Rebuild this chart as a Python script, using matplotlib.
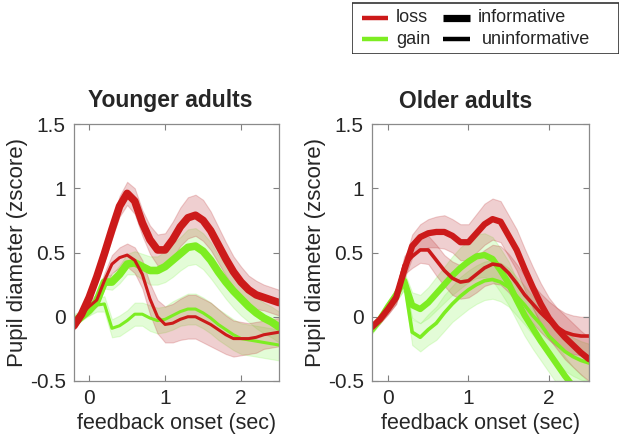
import numpy as np
import matplotlib
matplotlib.use("Agg")
import matplotlib.pyplot as plt
from matplotlib.lines import Line2D
from matplotlib.patches import Rectangle

plt.rcParams['font.family'] = ['Liberation Sans', 'DejaVu Sans']

# ---------------- data ----------------
t = [-0.2, -0.1, 0.0, 0.1, 0.2, 0.3, 0.4, 0.5, 0.6, 0.7, 0.8, 0.9, 1.0, 1.1,
     1.2, 1.3, 1.4, 1.5, 1.6, 1.7, 1.8, 1.9, 2.0, 2.1, 2.2, 2.3, 2.4, 2.5]

# Younger adults
young_loss_inf = [-0.07, 0.02, 0.15, 0.31, 0.49, 0.68, 0.86, 0.96, 0.90, 0.73, 0.60, 0.52, 0.52, 0.60,
                  0.70, 0.77, 0.79, 0.75, 0.67, 0.56, 0.45, 0.35, 0.27, 0.21, 0.17, 0.15, 0.13, 0.11]
young_loss_inf_ci = [0.03, 0.03, 0.04, 0.05, 0.06, 0.07, 0.08, 0.09, 0.10, 0.10, 0.11, 0.12, 0.13, 0.14,
                     0.15, 0.16, 0.16, 0.16, 0.15, 0.14, 0.13, 0.12, 0.12, 0.11, 0.11, 0.10, 0.10, 0.10]
young_gain_inf = [-0.05, 0.00, 0.05, 0.12, 0.27, 0.27, 0.33, 0.41, 0.42, 0.39, 0.36, 0.36, 0.39, 0.44,
                  0.49, 0.54, 0.55, 0.51, 0.44, 0.35, 0.27, 0.20, 0.14, 0.08, 0.03, -0.01, -0.04, -0.08]
young_gain_inf_ci = [0.03, 0.03, 0.04, 0.04, 0.05, 0.06, 0.07, 0.08, 0.09, 0.10, 0.11, 0.11, 0.12, 0.13,
                     0.13, 0.14, 0.14, 0.14, 0.14, 0.13, 0.13, 0.13, 0.13, 0.12, 0.12, 0.12, 0.12, 0.12]
young_loss_uninf = [-0.07, 0.02, 0.08, 0.13, 0.28, 0.41, 0.46, 0.48, 0.44, 0.33, 0.14, 0.00, -0.06, -0.05,
                    -0.02, 0.00, 0.00, -0.03, -0.06, -0.10, -0.14, -0.17, -0.17, -0.17, -0.16, -0.14, -0.13, -0.12]
young_loss_uninf_ci = [0.03, 0.03, 0.04, 0.05, 0.06, 0.07, 0.08, 0.09, 0.10, 0.11, 0.12, 0.13, 0.14, 0.15,
                       0.16, 0.17, 0.17, 0.17, 0.17, 0.16, 0.15, 0.14, 0.13, 0.12, 0.12, 0.11, 0.11, 0.11]
young_gain_uninf = [-0.01, 0.02, 0.05, 0.09, 0.10, -0.09, -0.07, -0.03, 0.02, 0.02, -0.01, -0.03, -0.02, 0.01,
                    0.04, 0.06, 0.06, 0.03, -0.01, -0.06, -0.10, -0.14, -0.17, -0.18, -0.19, -0.20, -0.21, -0.22]
young_gain_uninf_ci = [0.03, 0.03, 0.04, 0.05, 0.06, 0.07, 0.08, 0.08, 0.09, 0.09, 0.10, 0.10, 0.10, 0.11,
                       0.11, 0.12, 0.12, 0.12, 0.12, 0.12, 0.12, 0.12, 0.12, 0.12, 0.12, 0.12, 0.12, 0.12]

# Older adults
old_loss_inf = [-0.08, -0.02, 0.06, 0.15, 0.36, 0.55, 0.62, 0.65, 0.66, 0.66, 0.63, 0.58, 0.58, 0.65,
                0.72, 0.76, 0.74, 0.63, 0.52, 0.37, 0.23, 0.10, -0.01, -0.09, -0.16, -0.22, -0.28, -0.33]
old_loss_inf_ci = [0.03, 0.03, 0.04, 0.05, 0.07, 0.09, 0.10, 0.11, 0.12, 0.13, 0.13, 0.14, 0.14, 0.15,
                   0.16, 0.16, 0.16, 0.16, 0.16, 0.16, 0.16, 0.16, 0.16, 0.16, 0.17, 0.17, 0.17, 0.17]
old_gain_inf = [-0.10, -0.02, 0.08, 0.17, 0.28, 0.09, 0.06, 0.11, 0.18, 0.25, 0.32, 0.38, 0.43, 0.47,
                0.48, 0.45, 0.36, 0.26, 0.13, 0.01, -0.09, -0.19, -0.28, -0.37, -0.46, -0.54, -0.60, -0.66]
old_gain_inf_ci = [0.03, 0.03, 0.04, 0.05, 0.07, 0.10, 0.11, 0.12, 0.13, 0.14, 0.15, 0.16, 0.16, 0.17,
                   0.17, 0.17, 0.17, 0.17, 0.16, 0.16, 0.16, 0.15, 0.15, 0.15, 0.15, 0.15, 0.15, 0.15]
old_loss_uninf = [-0.08, -0.02, 0.06, 0.15, 0.40, 0.47, 0.52, 0.52, 0.44, 0.36, 0.30, 0.27, 0.28, 0.33,
                  0.38, 0.41, 0.40, 0.34, 0.26, 0.17, 0.10, 0.03, -0.03, -0.08, -0.12, -0.14, -0.15, -0.15]
old_loss_uninf_ci = [0.03, 0.03, 0.04, 0.05, 0.07, 0.09, 0.10, 0.11, 0.12, 0.12, 0.13, 0.13, 0.13, 0.14,
                     0.14, 0.15, 0.15, 0.15, 0.15, 0.15, 0.15, 0.15, 0.15, 0.15, 0.15, 0.15, 0.15, 0.15]
old_gain_uninf = [-0.10, -0.02, 0.08, 0.17, 0.28, -0.12, -0.16, -0.10, -0.05, 0.03, 0.10, 0.16, 0.21, 0.25,
                  0.28, 0.29, 0.27, 0.23, 0.16, 0.09, 0.01, -0.06, -0.15, -0.21, -0.27, -0.31, -0.34, -0.36]
old_gain_uninf_ci = [0.03, 0.03, 0.04, 0.05, 0.07, 0.10, 0.11, 0.12, 0.13, 0.14, 0.14, 0.15, 0.15, 0.15,
                     0.15, 0.15, 0.15, 0.15, 0.15, 0.15, 0.15, 0.15, 0.15, 0.15, 0.15, 0.15, 0.15, 0.15]

panel_titles = ["Younger adults", "Older adults"]
x_ticks = [0, 1, 2]
y_ticks = [-0.5, 0, 0.5, 1, 1.5]
y_tick_labels = ["-0.5", "0", "0.5", "1", "1.5"]
legend_labels = ["loss", "gain", "informative", "uninformative"]

RED = '#cc1a1a'
GREEN = '#7ded22'
RED_FILL = '#c0393b'
GREEN_FILL = '#8cf55a'
TXT = '#262626'

# ---------------- figure ----------------
fig = plt.figure(figsize=(6.23, 4.46), dpi=100)
W, H = 623, 446

def px_axes(x0, y0, x1, y1, **kw):
    return fig.add_axes([x0 / W, 1 - y1 / H, (x1 - x0) / W, (y1 - y0) / H], **kw)

ax_left = px_axes(74, 124, 279, 381)
ax_right = px_axes(372, 124, 589, 381)

panels = [
    (ax_left, [(young_gain_inf, young_gain_inf_ci, GREEN, GREEN_FILL, 5.5),
               (young_gain_uninf, young_gain_uninf_ci, GREEN, GREEN_FILL, 2.2),
               (young_loss_inf, young_loss_inf_ci, RED, RED_FILL, 5.5),
               (young_loss_uninf, young_loss_uninf_ci, RED, RED_FILL, 2.2)]),
    (ax_right, [(old_gain_inf, old_gain_inf_ci, GREEN, GREEN_FILL, 4.5),
                (old_gain_uninf, old_gain_uninf_ci, GREEN, GREEN_FILL, 2.6),
                (old_loss_inf, old_loss_inf_ci, RED, RED_FILL, 4.5),
                (old_loss_uninf, old_loss_uninf_ci, RED, RED_FILL, 2.6)]),
]

tt = np.array(t)
for ax, series in panels:
    for vals, ci, col, fcol, lw in series:
        v = np.array(vals)
        c = np.array(ci)
        ax.fill_between(tt, v - c, v + c, color=fcol, alpha=0.24, lw=0.8,
                        edgecolor=fcol)
        ax.plot(tt, v, color=col, lw=lw, solid_capstyle='round',
                solid_joinstyle='round')

for ax, title, tx in [(ax_left, panel_titles[0], 170), (ax_right, panel_titles[1], 466)]:
    ax.set_xlim(-0.2, 2.5)
    ax.set_ylim(-0.5, 1.5)
    ax.set_xticks(x_ticks)
    ax.set_yticks(y_ticks)
    ax.set_yticklabels(y_tick_labels)
    ax.tick_params(direction='in', length=4, width=0.8, colors='#808080',
                   labelcolor=TXT, labelsize=15, top=True, right=True, pad=6)
    for s in ax.spines.values():
        s.set_color('#8a8a8a')
        s.set_linewidth(0.9)
    ax.set_xlabel("feedback onset (sec)", fontsize=15.5, color=TXT, labelpad=3)
    ax.set_ylabel("Pupil diameter (zscore)", fontsize=16, color=TXT, labelpad=1)
    fig.text(tx / W, 1 - 101 / H, title, ha='center', va='center',
             fontsize=16.5, fontweight='bold', color=TXT)

# legend (drawn in its own pixel-based box)
lx0, ly0, lx1, ly1 = 352, 2, 619, 54
lax = px_axes(lx0, ly0, lx1, ly1)
lax.set_xlim(lx0, lx1)
lax.set_ylim(ly1, ly0)
lax.axis('off')
lax.add_patch(Rectangle((lx0 + 0.5, ly0 + 0.5), lx1 - lx0 - 1, ly1 - ly0 - 1,
                        fill=False, edgecolor='#333333', lw=1.2))
entries = [
    (legend_labels[0], RED, 3.2, 362, 388, 396, 18),
    (legend_labels[1], GREEN, 3.2, 362, 388, 396, 39),
    (legend_labels[2], 'black', 5.2, 443, 470, 478, 18),
    (legend_labels[3], 'black', 3.2, 443, 470, 482, 39),
]
for lab, col, lw, sx0, sx1, tx0, yy in entries:
    lax.add_line(Line2D([sx0, sx1], [yy, yy], color=col, lw=lw, solid_capstyle='butt'))
    lax.text(tx0, yy, lab, ha='left', va='center', fontsize=13, color=TXT)

fig.savefig("out.png", dpi=100)
